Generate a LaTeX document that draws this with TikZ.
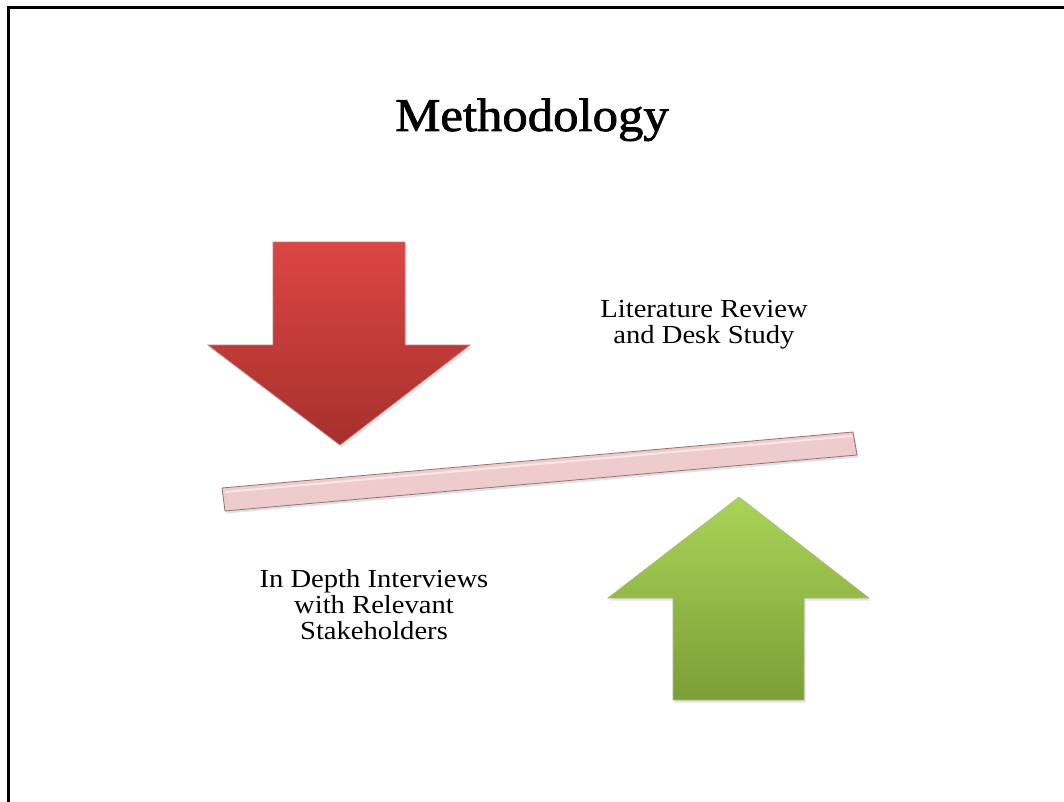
\documentclass[tikz,border=0pt]{standalone}
\usepackage{fontspec}
\setmainfont{Liberation Serif}[FakeStretch=1.1]
\newfontfamily\headingfont{Liberation Serif}[FakeStretch=1.08, FakeBold=1.6]
\usetikzlibrary{shadows}

\definecolor{redtop}{RGB}{219,70,66}
\definecolor{redbot}{RGB}{166,48,44}
\definecolor{rededge}{RGB}{140,40,36}
\definecolor{greentop}{RGB}{170,212,88}
\definecolor{greenbot}{RGB}{124,158,54}
\definecolor{greenedge}{RGB}{110,140,50}
\definecolor{barfill}{RGB}{238,204,206}
\definecolor{barlight}{RGB}{250,232,233}
\definecolor{baredge}{RGB}{150,112,114}

\tikzset{
  frameline/.style={line width=3pt, black},
  softshadow/.style={drop shadow={opacity=0.22, shadow xshift=1.5pt, shadow yshift=-2.5pt}},
  arrowedge/.style={line width=0.6pt, line join=miter},
  label/.style={font=\fontsize{26}{26}\selectfont, align=center, inner sep=0pt, text=black},
  heading/.style={font=\headingfont\fontsize{47}{50}\selectfont, inner sep=0pt, anchor=base}
}

\begin{document}
\begin{tikzpicture}[x=1pt, y=-1pt]
  \useasboundingbox (0,0) rectangle (1064,802);
  \fill[white] (0,0) rectangle (1064,802);

  % frame: top and left rules
  \draw[frameline] (1064,8) -- (8,8) -- (8,802);

  % title
  \node[heading] (title) at (532,131) {Methodology};

  % red arrow pointing down
  \path[softshadow, top color=redtop, bottom color=redbot]
    (273,242) -- (405,242) -- (405,345) -- (470,345) -- (340,445)
    -- (208,345) -- (273,345) -- cycle;
  \draw[arrowedge, rededge!60]
    (273,242) -- (405,242) -- (405,345) -- (470,345) -- (340,445)
    -- (208,345) -- (273,345) -- cycle;

  % green arrow pointing up
  \path[softshadow, top color=greentop, bottom color=greenbot]
    (739,497) -- (869,598) -- (804,598) -- (804,700) -- (673,700)
    -- (673,598) -- (608,598) -- cycle;
  \draw[arrowedge, greenedge!60]
    (739,497) -- (869,598) -- (804,598) -- (804,700) -- (673,700)
    -- (673,598) -- (608,598) -- cycle;

  % tilted pink bar
  \path[softshadow, fill=barfill]
    (222,488) -- (853,432) -- (857,455) -- (225,511) -- cycle;
  \draw[line width=2pt, barlight]
    (225,492) -- (852,436);
  \draw[line width=0.8pt, baredge]
    (222,488) -- (853,432) -- (857,455) -- (225,511) -- cycle;

  % labels
  \node[label] (lit) at (704,325) {Literature Review\\and Desk Study};
  \node[label] (intv) at (374,605) {In Depth Interviews\\with Relevant\\Stakeholders};
\end{tikzpicture}
\end{document}
